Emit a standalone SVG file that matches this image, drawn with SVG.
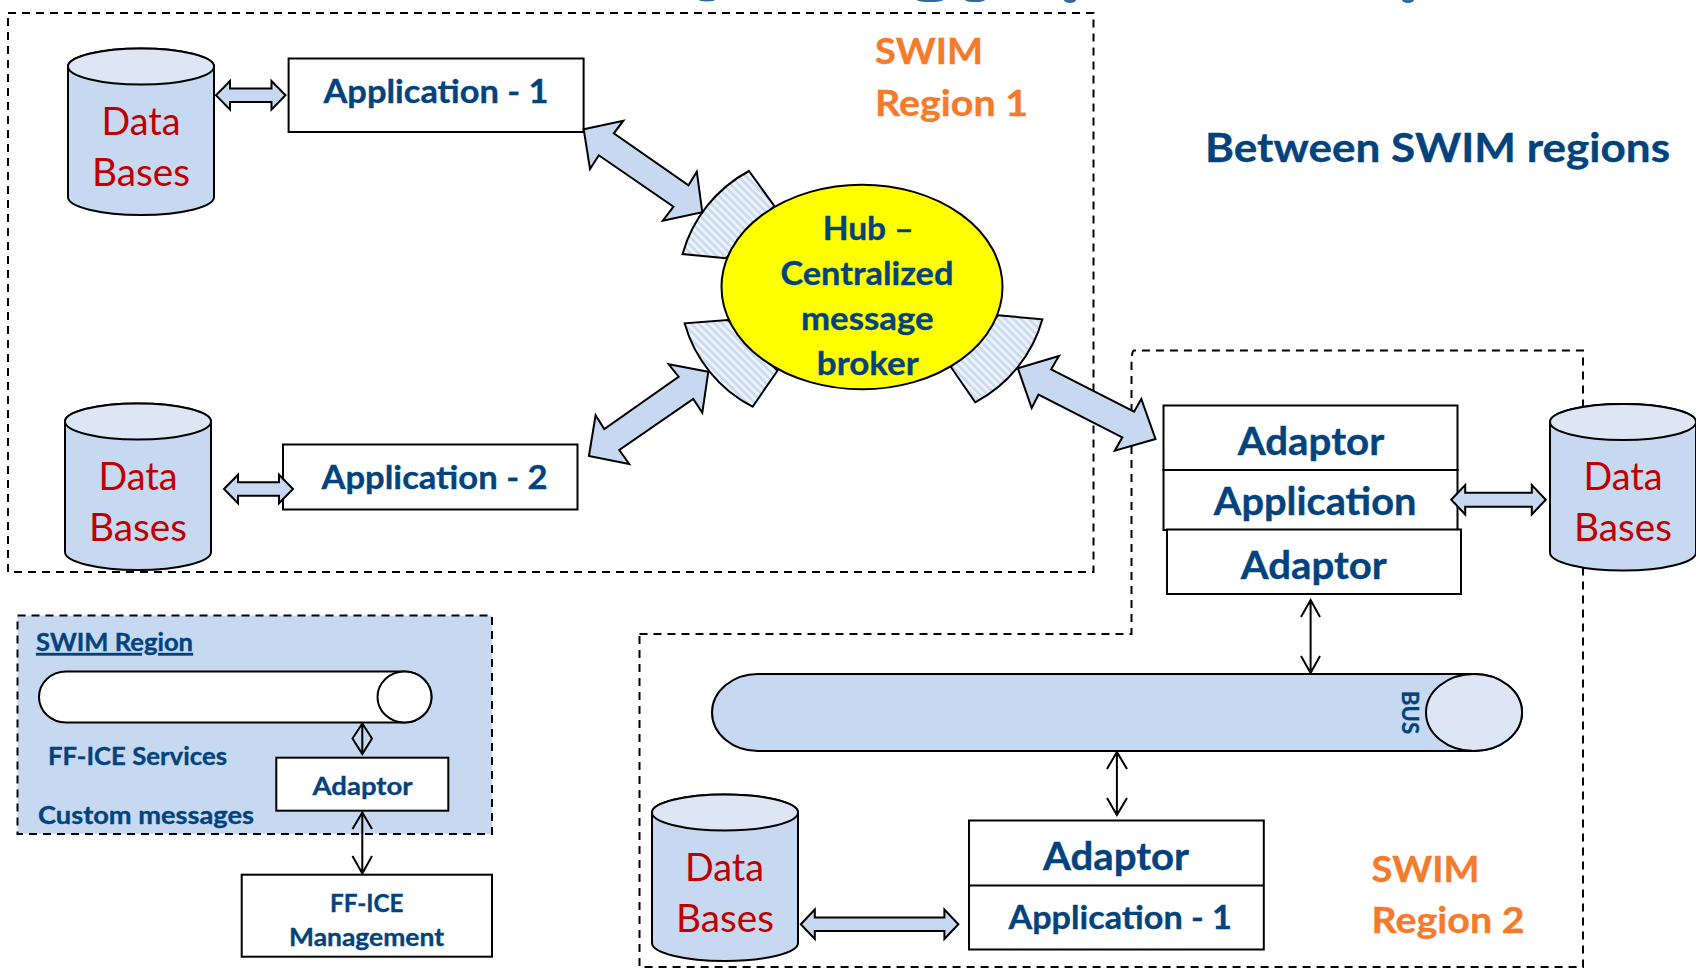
<svg xmlns="http://www.w3.org/2000/svg" width="1696" height="968" viewBox="0 0 1696 968">
<style>
text{font-family:"Lato","Carlito","Liberation Sans",sans-serif;font-weight:700;fill:#02437d;stroke:#02437d;stroke-width:.35}
.b{stroke:#000;stroke-width:2;fill:#fff}
.big{font-size:37.500px}.mid{font-size:32.500px}.sm{font-size:25px}
.db{font-weight:400;font-size:38px;fill:#c00000;stroke:none}
.or{font-size:36px;fill:#f47b2b;stroke:#f47b2b}
.ar{fill:#c6d9f1;stroke:#000;stroke-width:2;stroke-linejoin:miter}
.ln{fill:none;stroke:#000;stroke-width:2}
.dash{fill:none;stroke:#000;stroke-width:2;stroke-dasharray:8 6}
.hub{fill:url(#h);stroke:#000;stroke-width:2}
</style>
<defs>
<pattern id="h" width="5.500" height="5.500" patternUnits="userSpaceOnUse" patternTransform="rotate(-45)"><rect width="5.500" height="5.500" fill="#eef3fa"/><rect width="2.700" height="5.500" fill="#c9dbf2"/></pattern>
<g id="cyl"><path d="M0 0A73 18 0 0 1 146 0V130.500A73 18 0 0 1 0 130.500Z" fill="#c6d9f1" stroke="#000" stroke-width="2"/><ellipse cx="73" cy="0" rx="73" ry="18" fill="#dce6f4" stroke="#000" stroke-width="2"/></g>
</defs>
<rect width="1696" height="968" fill="#fff"/>
<g id="title-fragments" fill="#2f6a9f"><ellipse cx="707" cy="0" rx="8" ry="1.500"/><ellipse cx="930" cy="0" rx="13" ry="2"/><ellipse cx="975" cy="0" rx="10" ry="2"/><ellipse cx="1070" cy="0" rx="6" ry="3"/><ellipse cx="1408" cy="0" rx="6" ry="3"/></g>
<g id="regions">
<rect id="region-1" class="dash" x="8" y="13" width="1085.500" height="559"/>
<path id="region-2" class="dash" d="M639.500 634H1131.500V365Q1131.500 351 1134 350.500H1583V967H639.500Z"/>
</g>
<g id="legend-region"><rect x="17.500" y="615.500" width="474.500" height="218.500" fill="#c6d9f1" stroke="#000" stroke-width="2" stroke-dasharray="8 6"/>
<text class="sm" x="36" y="651" textLength="157" lengthAdjust="spacingAndGlyphs" text-decoration="underline">SWIM Region</text>
<text class="sm" x="48" y="765" textLength="179" lengthAdjust="spacingAndGlyphs">FF-ICE Services</text>
<text class="sm" x="38" y="824" textLength="216" lengthAdjust="spacingAndGlyphs">Custom messages</text></g>
<g id="legend-bus"><path d="M66 671.500H404.500A27 25.500 0 0 1 404.500 722.500H66A27 25.500 0 0 1 66 671.500Z" fill="#fff" stroke="#000" stroke-width="2"/><ellipse cx="404.500" cy="697" rx="27" ry="25.500" fill="#fff" stroke="#000" stroke-width="2"/></g>
<g id="hub-sectors">
<path class="hub" d="M749 171A135 135 0 0 0 682.600 254L726 258.300L774.300 206Z"/>
<path class="hub" d="M684.600 323.300A135 135 0 0 0 752.600 406.700L777.500 370.700L728 320Z"/>
<path class="hub" d="M1042.400 319.300A135 135 0 0 1 975.200 402.300L950.700 366.700L998.100 315.300Z"/>
</g>
<g id="hub"><ellipse cx="862" cy="287" rx="140.500" ry="102.300" fill="#ff0" stroke="#000" stroke-width="2"/>
<text class="mid" x="822.700" y="240.300" textLength="91" lengthAdjust="spacingAndGlyphs">Hub –</text>
<text class="mid" x="780.400" y="285.300" textLength="173" lengthAdjust="spacingAndGlyphs">Centralized</text>
<text class="mid" x="801" y="330.300" textLength="132.500" lengthAdjust="spacingAndGlyphs">message</text>
<text class="mid" x="816.800" y="375" textLength="102" lengthAdjust="spacingAndGlyphs">broker</text></g>
<g id="db-1"><use href="#cyl" x="68" y="66.500"/><text class="db" x="101.500" y="135.300" textLength="79" lengthAdjust="spacingAndGlyphs">Data</text><text class="db" x="92" y="186" textLength="98" lengthAdjust="spacingAndGlyphs">Bases</text></g>
<g id="db-2"><use href="#cyl" x="65" y="421.500"/><text class="db" x="98.500" y="490.300" textLength="79" lengthAdjust="spacingAndGlyphs">Data</text><text class="db" x="89" y="541" textLength="98" lengthAdjust="spacingAndGlyphs">Bases</text></g>
<g id="db-3"><use href="#cyl" x="1550" y="422"/><text class="db" x="1583.500" y="490" textLength="79" lengthAdjust="spacingAndGlyphs">Data</text><text class="db" x="1574" y="541" textLength="98" lengthAdjust="spacingAndGlyphs">Bases</text></g>
<g id="db-4"><use href="#cyl" x="652" y="812.500"/><text class="db" x="685" y="881" textLength="79" lengthAdjust="spacingAndGlyphs">Data</text><text class="db" x="676" y="932" textLength="98" lengthAdjust="spacingAndGlyphs">Bases</text></g>
<g id="app-1"><rect class="b" x="288.600" y="58.500" width="295" height="73.500"/><text class="mid" x="323.500" y="102.700" textLength="225" lengthAdjust="spacingAndGlyphs">Application - 1</text></g>
<g id="app-2"><rect class="b" x="283" y="444.500" width="294.500" height="65"/><text class="mid" x="321.500" y="488.800" textLength="226" lengthAdjust="spacingAndGlyphs">Application - 2</text></g>
<g id="stack">
<rect class="b" x="1163.500" y="405.500" width="294" height="64.500"/><text class="big" x="1237.700" y="455.300" textLength="146.500" lengthAdjust="spacingAndGlyphs">Adaptor</text>
<rect class="b" x="1163.500" y="470" width="294" height="60"/><text class="big" x="1213.800" y="515.300" textLength="202.700" lengthAdjust="spacingAndGlyphs">Application</text>
<rect class="b" x="1167" y="529.500" width="294" height="64.500"/><text class="big" x="1240.800" y="579.300" textLength="146" lengthAdjust="spacingAndGlyphs">Adaptor</text>
</g>
<g id="bus"><path d="M758 674H1474A48 38.500 0 0 1 1474 751H758A46 38.500 0 0 1 758 674Z" fill="#c6d9f1" stroke="#000" stroke-width="2"/><ellipse cx="1474" cy="712.500" rx="48" ry="38.500" fill="#dce6f4" stroke="#000" stroke-width="2"/>
<text x="0" y="0" transform="translate(1401.500 691) rotate(90)" font-size="23" font-weight="400" textLength="43" lengthAdjust="spacingAndGlyphs">BUS</text></g>
<g id="app-3"><rect class="b" x="969" y="820.500" width="294.800" height="129"/><path class="ln" d="M969 885.500H1263.800"/>
<text class="big" x="1043" y="870.300" textLength="146" lengthAdjust="spacingAndGlyphs">Adaptor</text>
<text class="mid" x="1008.500" y="929.300" textLength="223.400" lengthAdjust="spacingAndGlyphs">Application - 1</text></g>
<g id="legend-adaptor"><rect class="b" x="276.300" y="757.700" width="172" height="53"/><text class="sm" x="312.500" y="795.300" textLength="100" lengthAdjust="spacingAndGlyphs">Adaptor</text></g>
<g id="ff-ice"><rect class="b" x="241.700" y="874.700" width="250.300" height="82"/><text class="sm" x="330" y="912" textLength="73.500" lengthAdjust="spacingAndGlyphs">FF-ICE</text><text class="sm" x="289" y="946" textLength="155" lengthAdjust="spacingAndGlyphs">Management</text></g>
<g id="labels">
<text class="or" x="875" y="64" textLength="108" lengthAdjust="spacingAndGlyphs">SWIM</text>
<text class="or" x="875" y="116" textLength="153" lengthAdjust="spacingAndGlyphs">Region 1</text>
<text class="or" x="1371.500" y="881.500" textLength="108" lengthAdjust="spacingAndGlyphs">SWIM</text>
<text class="or" x="1371.500" y="932.500" textLength="153" lengthAdjust="spacingAndGlyphs">Region 2</text>
<text x="1205" y="162" font-size="40" textLength="465" lengthAdjust="spacingAndGlyphs">Between SWIM regions</text>
</g>
<g id="connectors">
<polygon class="ar" points="583.700,129.300 623.300,120.700 613.800,133.300 688.500,185.300 696.800,171.700 702.300,212.300 662.800,220.700 673.500,206.700 598.800,155.300 590,169"/>
<polygon class="ar" points="708.300,371.700 668.700,364.300 678.600,376.700 604.300,429 595.600,415.300 588.900,456 629.200,464 619.300,450 693.300,399 702.300,412.700"/>
<polygon class="ar" points="1017.900,368.300 1059,356 1051.100,369.300 1134.100,411.700 1141.300,399 1155.500,439 1114.800,450.700 1122.300,437.300 1038.500,394.700 1031.700,408"/>
<polygon class="ar" points="216,95.300 230,81 230,88.600 271.500,88.600 271.500,81 285.500,95.300 271.500,109.600 271.500,102 230,102 230,109.600"/>
<polygon class="ar" points="224,489 238,474.700 238,482.300 279,482.300 279,474.700 293,489 279,503.300 279,495.700 238,495.700 238,503.300"/>
<polygon class="ar" points="1451.200,499.700 1465.200,485 1465.200,492.700 1531.800,492.700 1531.800,485 1545.800,499.700 1531.800,514.400 1531.800,506.700 1465.200,506.700 1465.200,514.400"/>
<polygon class="ar" points="800.800,924.300 814.800,909.600 814.800,917.600 944.400,917.600 944.400,909.600 958.400,924.300 944.400,939 944.400,931 814.800,931 814.800,939"/>
<path class="ln" d="M1310.600 600V673M1301 617L1310.600 600L1320 617M1301 656L1310.600 673L1320 656"/>
<path class="ln" d="M1116.900 752V815M1107 769L1116.900 752L1127 769M1107 798L1116.900 815L1127 798"/>
<path class="ln" d="M362.300 723.500V754M352.500 738.500L362.300 723.500L372 738.500L362.300 754Z"/>
<path class="ln" d="M362.300 812.500V873.500M352.500 829L362.300 812.500L372 829M352.500 856L362.300 873.500L372 856"/>
</g>
</svg>
